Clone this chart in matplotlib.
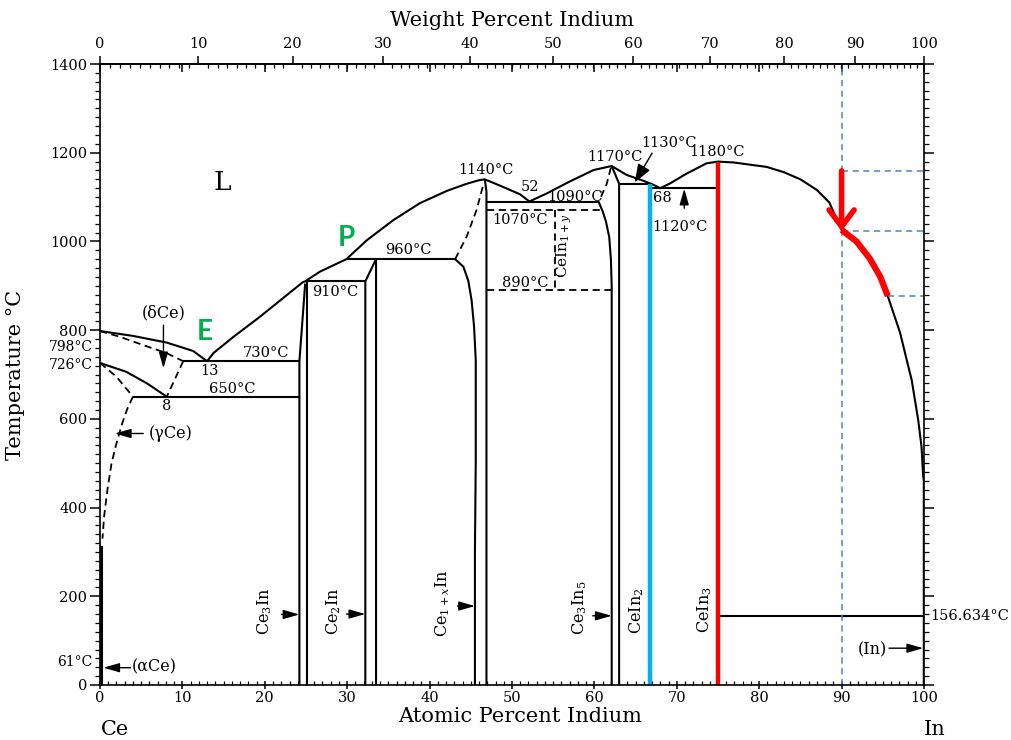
import numpy as np
import matplotlib
matplotlib.use("Agg")
import matplotlib.pyplot as plt
from matplotlib.ticker import MultipleLocator

plt.rcParams['font.family'] = ['DejaVu Serif']
plt.rcParams['mathtext.fontset'] = 'dejavuserif'

M_CE, M_IN = 140.116, 114.818

# liquidus (at.% In, deg C)
liq_ce_at = [0, 4.0, 8.1, 11.3, 13.0]
liq_ce_t = [798, 787, 772, 753, 730]
liq_at = [13.0, 13.75, 16.2, 19.4, 21.4, 24.6, 24.9, 26.7, 29.9, 32.4, 35.6, 38.8,
          42.1, 44.5, 46.0, 46.7, 48.9, 51.0, 52.1, 54.2, 57.0, 59.9, 62.1, 63.9,
          65.9, 67.0, 68.0, 69.2, 71.2, 73.6, 75.0, 76.9, 80.9, 83.0, 85.0, 87.0,
          88.5, 90.0, 91.8, 93.4, 94.7, 95.6, 97.1, 97.9, 98.5, 99.3, 99.7, 99.9, 100]
liq_t = [730, 748, 785, 830, 860, 908, 910, 932, 960, 1003, 1048, 1086,
         1114, 1130, 1138, 1140, 1123, 1106, 1090, 1108, 1135, 1161, 1170, 1150,
         1137, 1129, 1120, 1131, 1153, 1176, 1180, 1178, 1168, 1156, 1140, 1116,
         1088, 1026, 1000, 962, 920, 877, 794, 733, 688, 597, 537, 470, 462]

# Ce-rich side
delta_dash_at = [0, 2.4, 5.3, 8.1, 10.1]
delta_dash_t = [798, 785, 766, 748, 730]
eutectoid_dash_at = [10.1, 8.1]
eutectoid_dash_t = [730, 650]
gamma_solid_at = [0, 3.2, 5.7, 8.1]
gamma_solid_t = [726, 706, 680, 650]
gamma_dash_at = [0, 2.0, 4.0]
gamma_dash_t = [726, 695, 650]
gamma_solvus_at = [4.0, 3.3, 2.7, 2.0, 1.4, 0.9, 0.5, 0.3]
gamma_solvus_t = [650, 622, 590, 545, 500, 440, 380, 330]
alpha_at = [0.15, 0.15]
alpha_t = [0, 312]

# invariant lines
line_730_at = [10.1, 24.2]
line_650_at = [4.0, 24.2]
line_910_at = [25.1, 32.2]
line_960_at = [29.9, 43.1]
line_1090_at = [47.0, 60.5]
line_1130_at = [63.0, 66.7]
line_1120_at = [66.7, 75.0]
line_156_at = [75.0, 100]
dash_1070_at = [47.0, 60.9]
dash_890_at = [47.0, 62.1]

# compound boundaries
ce3in_l_at, ce3in_l_t = [24.2, 24.2, 24.9], [0, 730, 905]
ce3in_r_at, ce3in_r_t = [25.1, 25.1], [0, 910]
ce2in_at, ce2in_t = [32.2, 32.2, 33.5, 33.5], [0, 910, 960, 0]
ce1x_l_at = [43.1, 44.1, 44.7, 45.1, 45.4, 45.6, 45.6, 45.5, 45.5]
ce1x_l_t = [960, 943, 911, 867, 807, 732, 500, 300, 0]
ce1x_dash_at = [43.1, 44.5, 45.7, 46.5]
ce1x_dash_t = [960, 1011, 1071, 1127]
ce1x_r_at, ce1x_r_t = [46.7, 46.9, 46.9], [1140, 1112, 0]
cein1y_at, cein1y_t = [55.2, 55.2], [1070, 890]
ce3in5_l_at = [60.5, 61.0, 61.4, 61.8, 62.0, 62.1, 62.1]
ce3in5_l_t = [1090, 1068, 1045, 1010, 960, 900, 0]
ce3in5_dash_at = [62.0, 61.5, 60.6]
ce3in5_dash_t = [1166, 1130, 1092]
ce3in5_r_at, ce3in5_r_t = [62.1, 63.0, 63.0], [1170, 1130, 0]
cein2_at, cein2_t = [66.7, 66.7], [0, 1130]
cein3_at, cein3_t = [75.0, 75.0], [0, 1180]
in_at, in_t = [99.95, 99.95], [0, 462]

# highlighted composition (90 at.%)
guide_at = 90
guide_t = [1159, 1023]
guide_low_at, guide_low_t = 95.6, 877
red_from, red_to = 90.0, 95.6

temp_labels = ['730°C', '650°C', '910°C', '960°C', '1140°C', '1090°C', '1070°C', '890°C',
               '1170°C', '1130°C', '1180°C', '1120°C', '13', '8', '52', '68']
temp_lab_at = [20.1, 16.0, 28.6, 37.4, 46.8, 57.6, 51.0, 51.6,
               62.5, 69.1, 74.9, 70.4, 13.3, 8.1, 52.2, 68.3]
temp_lab_t = [748, 667, 886, 981, 1161, 1100, 1048, 906,
              1190, 1222, 1201, 1032, 708, 629, 1123, 1098]

comp_names = ['Ce$_3$In', 'Ce$_2$In', 'Ce$_{1+x}$In', 'Ce$_3$In$_5$', 'CeIn$_2$', 'CeIn$_3$']
comp_at = [20.0, 28.3, 41.6, 58.25, 65.1, 73.4]
comp_t = [167, 167, 185, 174, 167, 169]
comp_arrow_tail = [22.0, 29.9, 43.4, 59.8]
comp_arrow_tip = [24.2, 32.2, 45.5, 62.1]
comp_arrow_t = [159, 160, 178, 156]

left_labels = ['798°C', '726°C', '61°C']
left_lab_t = [763, 721, 52]


def at2wt(a):
    a = np.clip(np.asarray(a, float), 0, 100)
    return 100 * a * M_IN / (a * M_IN + (100 - a) * M_CE)


def wt2at(w):
    w = np.clip(np.asarray(w, float), 0, 100)
    return 100 * (w / M_IN) / (w / M_IN + (100 - w) / M_CE)


fig = plt.figure(figsize=(10.11, 7.40), dpi=100)
ax = fig.add_axes([100 / 1011, 55 / 740, 824 / 1011, 621 / 740])
ax.set_xlim(0, 100)
ax.set_ylim(0, 1400)

K = dict(color='k', lw=1.5, solid_capstyle='butt')
D = dict(color='k', lw=1.3, ls=(0, (4, 2.5)))

ax.plot(liq_ce_at, liq_ce_t, **K)
ax.plot(liq_at, liq_t, **K)
ax.plot(gamma_solid_at, gamma_solid_t, **K)
ax.plot(alpha_at, alpha_t, color='k', lw=2.2)
ax.plot(in_at, in_t, color='k', lw=2.5)
for xs, yv in [(line_730_at, 730), (line_650_at, 650), (line_910_at, 910), (line_960_at, 960),
               (line_1090_at, 1090), (line_1130_at, 1130), (line_1120_at, 1120),
               (line_156_at, 156.634)]:
    ax.plot(xs, [yv, yv], **K)
for xs, ys in [(ce3in_l_at, ce3in_l_t), (ce3in_r_at, ce3in_r_t), (ce2in_at, ce2in_t),
               (ce1x_l_at, ce1x_l_t), (ce1x_r_at, ce1x_r_t), (ce3in5_l_at, ce3in5_l_t),
               (ce3in5_r_at, ce3in5_r_t)]:
    ax.plot(xs, ys, **K)
for xs, ys in [(delta_dash_at, delta_dash_t), (eutectoid_dash_at, eutectoid_dash_t),
               (gamma_dash_at, gamma_dash_t), (gamma_solvus_at, gamma_solvus_t),
               (ce1x_dash_at, ce1x_dash_t), (ce3in5_dash_at, ce3in5_dash_t),
               (cein1y_at, cein1y_t)]:
    ax.plot(xs, ys, **D)
ax.plot(dash_1070_at, [1070, 1070], **D)
ax.plot(dash_890_at, [890, 890], **D)

ax.plot(cein2_at, cein2_t, color='#00b0f0', lw=3.2, solid_capstyle='butt')
ax.plot(cein3_at, cein3_t, color='#ff0000', lw=3.2, solid_capstyle='butt')

# blue guide lines
B = dict(color='#4f81bd', lw=1.1, ls=(0, (4, 3)))
ax.plot([guide_at, guide_at], [0, 1400], **B)
for yv in guide_t:
    ax.plot([guide_at, 100], [yv, yv], **B)
ax.plot([guide_low_at, 100], [guide_low_t, guide_low_t], **B)

liq_arr_at = np.array(liq_at)
liq_arr_t = np.array(liq_t)
sel = (liq_arr_at >= red_from) & (liq_arr_at <= red_to)
ax.plot(liq_arr_at[sel], liq_arr_t[sel], color='red', lw=4.5, solid_capstyle='butt')
ax.annotate('', xy=(guide_at, guide_t[1]), xytext=(guide_at, guide_t[0]),
            arrowprops=dict(arrowstyle='->,head_length=0.6,head_width=0.45', color='red',
                            lw=4.0, shrinkA=0, shrinkB=0, mutation_scale=20))

AP = dict(arrowstyle='-|>,head_length=0.7,head_width=0.2', color='k', lw=1.0,
          shrinkA=0, shrinkB=0, mutation_scale=14)


def arrow(tail, tip):
    ax.annotate('', xy=tip, xytext=tail, arrowprops=AP)


for tl, tp, ty in zip(comp_arrow_tail, comp_arrow_tip, comp_arrow_t):
    arrow((tl, ty), (tp, ty))
arrow((7.7, 811), (7.7, 714))      # (dCe)
arrow((5.25, 567), (1.8, 567))     # (gCe)
arrow((3.7, 39), (0.4, 39))        # (aCe)
arrow((95.75, 83), (99.9, 83))     # (In)
arrow((70.9, 1075), (70.9, 1119))  # 1120
ax.annotate('', xy=(64.9, 1133), xytext=(67.0, 1199),
            arrowprops=dict(AP, arrowstyle='-|>,head_length=0.8,head_width=0.3'))

for s, x, y in zip(temp_labels, temp_lab_at, temp_lab_t):
    ax.text(x, y, s, fontsize=10.5, ha='center', va='center')
for s, x, y in zip(comp_names, comp_at, comp_t):
    ax.text(x, y, s, fontsize=11.5, ha='center', va='center', rotation=90)
ax.text(56.4, 990, 'CeIn$_{1+y}$', fontsize=11, ha='center', va='center', rotation=90)
ax.text(7.7, 839, '(δCe)', fontsize=11.5, ha='center', va='center')
ax.text(8.6, 567, '(γCe)', fontsize=11.5, ha='center', va='center')
ax.text(3.9, 40, '(αCe)', fontsize=11.5, ha='left', va='center')
ax.text(95.5, 79, '(In)', fontsize=11.5, ha='right', va='center')
ax.text(14.8, 1132, 'L', fontsize=19, ha='center', va='center')
ax.text(12.7, 796, 'E', fontsize=20, ha='center', va='center', color='#00b050',
        fontweight='bold', family='Lato')
ax.text(29.9, 1008, 'P', fontsize=20, ha='center', va='center', color='#00b050',
        fontweight='bold', family='Lato')

ytr = ax.get_yaxis_transform()
for s, y in zip(left_labels, left_lab_t):
    ax.text(-0.009, y, s, transform=ytr, fontsize=10, ha='right', va='center')
ax.text(1.007, 156.634, '156.634°C', transform=ytr, fontsize=10.5, ha='left', va='center')
ax.text(0.018, -0.072, 'Ce', transform=ax.transAxes, fontsize=15, ha='center', va='center')
ax.text(1.013, -0.072, 'In', transform=ax.transAxes, fontsize=15, ha='center', va='center')

# axes, ticks
for sp in ax.spines.values():
    sp.set_linewidth(1.2)
ax.set_xticks(range(0, 101, 10))
ax.xaxis.set_minor_locator(MultipleLocator(1))
ax.set_yticks(range(0, 1401, 200))
ax.yaxis.set_minor_locator(MultipleLocator(20))
ax.tick_params(axis='x', which='major', direction='inout', length=6, width=1.1,
               labelsize=10.5, pad=1, top=False)
ax.tick_params(axis='x', which='minor', direction='in', length=3, width=0.9, top=False)
ax.tick_params(axis='y', which='both', direction='out', right=True, labelsize=10.5, pad=2)
ax.tick_params(axis='y', which='major', length=7, width=1.1)
ax.tick_params(axis='y', which='minor', length=3.5, width=0.9)

top_at = ax.secondary_xaxis('top')
top_at.set_xticks(range(0, 101, 10))
top_at.tick_params(direction='in', length=6, width=1.1, labeltop=False)
top_at.spines['top'].set_visible(False)

top_wt = ax.secondary_xaxis('top', functions=(at2wt, wt2at))
top_wt.set_xticks(range(0, 101, 10))
top_wt.xaxis.set_minor_locator(MultipleLocator(1))
top_wt.tick_params(which='major', direction='out', length=6, width=1.1, labelsize=10.5, pad=3)
top_wt.tick_params(which='minor', direction='in', length=3, width=0.9)
top_wt.spines['top'].set_linewidth(1.2)

ax.set_ylabel('Temperature °C', fontsize=15)
ax.yaxis.set_label_coords(-0.091, 0.5)
ax.set_xlabel('Atomic Percent Indium', fontsize=15)
ax.xaxis.set_label_coords(0.51, -0.036)
fig.text(512 / 1011, 1 - 20 / 740, 'Weight Percent Indium', fontsize=15, ha='center', va='center')

fig.savefig('out.png', dpi=100)
